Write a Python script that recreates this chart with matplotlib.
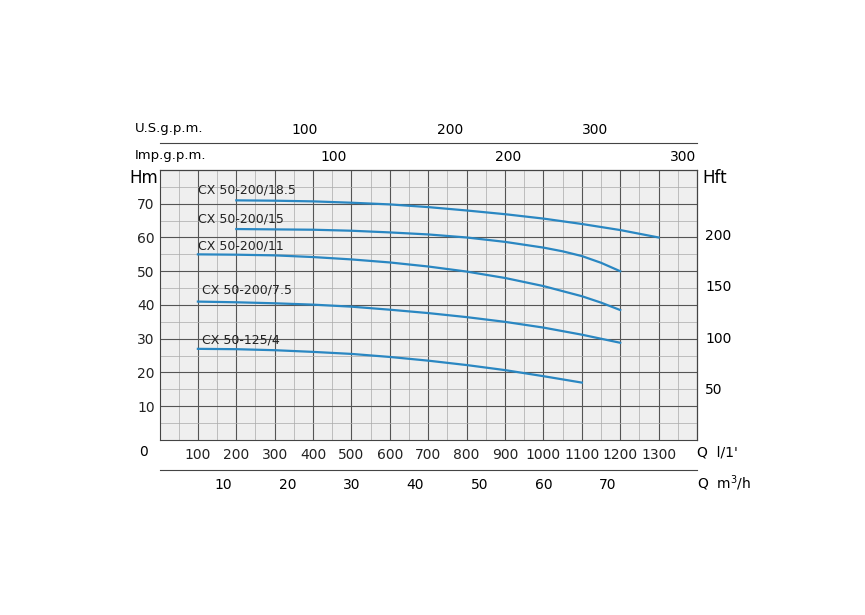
import numpy as np
import matplotlib
matplotlib.use('Agg')
import matplotlib.pyplot as plt

# ── Data (Q in l/min, H in m) ────────────────────────────────────────
q_185 = [200, 300, 400, 500, 600, 700, 800, 900, 1000, 1100, 1200, 1300]
h_185 = [71, 70.9, 70.7, 70.3, 69.8, 69.0, 68.0, 66.9, 65.6, 64.0, 62.2, 60]
q_15 = [200, 300, 400, 500, 600, 700, 800, 900, 1000, 1050, 1100, 1150, 1200]
h_15 = [62.5, 62.4, 62.3, 62.0, 61.5, 60.9, 60.0, 58.7, 57.0, 55.9, 54.5, 52.5, 50]
q_11 = [100, 200, 300, 400, 500, 600, 700, 800, 900, 1000, 1100, 1150, 1200]
h_11 = [55, 54.9, 54.7, 54.2, 53.5, 52.6, 51.4, 49.9, 48.0, 45.6, 42.6, 40.7, 38.5]
q_75 = [100, 200, 300, 400, 500, 600, 700, 800, 900, 1000, 1100, 1200]
h_75 = [41, 40.8, 40.5, 40.1, 39.5, 38.6, 37.6, 36.4, 35.0, 33.3, 31.2, 28.8]
q_4 = [100, 200, 300, 400, 500, 600, 700, 800, 900, 1000, 1100]
h_4 = [27, 26.9, 26.6, 26.1, 25.5, 24.6, 23.5, 22.2, 20.7, 18.9, 17]
names = ['CX 50-200/18.5', 'CX 50-200/15', 'CX 50-200/11', 'CX 50-200/7.5', 'CX 50-125/4']
label_y = [74, 65.5, 57.5, 44.5, 29.5]
label_x = [100, 100, 100, 110, 110]

BLUE = '#2a87c2'
fig = plt.figure(figsize=(8.65, 6.15), dpi=100)
ax = fig.add_axes([0.1844, 0.2846, 0.6214, 0.439])
ax.set_facecolor('#efefef')
ax.set_xlim(0, 1400); ax.set_ylim(0, 80)
ax.set_xticks(np.arange(100, 1400, 100))
ax.set_xticks(np.arange(50, 1400, 50), minor=True)
ax.set_yticks(np.arange(10, 80, 10))
ax.set_yticks(np.arange(5, 80, 5), minor=True)
ax.grid(which='major', color='#555555', lw=0.8)
ax.grid(which='minor', color='#aaaaaa', lw=0.5)
ax.tick_params(which='both', length=0, labelsize=10, colors='#222222')
ax.tick_params(axis='x', pad=6)
for s in ax.spines.values():
    s.set_color('#444444'); s.set_linewidth(0.8)

for q, h, n, lx, ly in zip([q_185, q_15, q_11, q_75, q_4], [h_185, h_15, h_11, h_75, h_4],
                           names, label_x, label_y):
    ax.plot(q, h, color=BLUE, lw=1.6)
    ax.text(lx, ly, n, fontsize=9, color='#222222', va='center')

ax.text(-0.03, -0.06, '0', transform=ax.transAxes, ha='center', fontsize=10)
ax.text(-0.03, 0.97, 'Hm', transform=ax.transAxes, ha='center', va='center', fontsize=12)
ax.text(1.0, -0.06, "Q  l/1'", transform=ax.transAxes, ha='left', fontsize=10)

# right axis in feet
ar = ax.secondary_yaxis('right', functions=(lambda m: m * 3.2808, lambda f: f / 3.2808))
ar.set_yticks([50, 100, 150, 200])
ar.tick_params(length=0, labelsize=10, pad=6)
ax.text(1.01, 0.97, 'Hft', transform=ax.transAxes, ha='left', va='center', fontsize=12)

# m3/h axis
am = ax.secondary_xaxis(-0.111, functions=(lambda l: l * 0.06, lambda m: m / 0.06))
am.set_xticks([10, 20, 30, 40, 50, 60, 70])
am.tick_params(length=0, labelsize=10, pad=6)
am.spines['bottom'].set_color('#444444')
ax.text(1.0, -0.18, 'Q  m$^3$/h', transform=ax.transAxes, ha='left', fontsize=10)

# Imp. g.p.m.
ai = ax.secondary_xaxis('top', functions=(lambda l: l / 4.546, lambda g: g * 4.546))
ai.set_xticks([100, 200, 300])
ai.tick_params(length=0, labelsize=10, pad=4)
ax.text(-0.046, 1.04, 'Imp.g.p.m.', transform=ax.transAxes, ha='left', fontsize=9.5)

# U.S. g.p.m.
au = ax.secondary_xaxis(1.1, functions=(lambda l: l / 3.785, lambda g: g * 3.785))
au.set_xticks([100, 200, 300])
au.tick_params(length=0, labelsize=10, pad=4)
au.spines['top'].set_color('#444444')
ax.text(-0.046, 1.14, 'U.S.g.p.m.', transform=ax.transAxes, ha='left', fontsize=9.5)

plt.savefig('out.png', dpi=100, facecolor='white')
